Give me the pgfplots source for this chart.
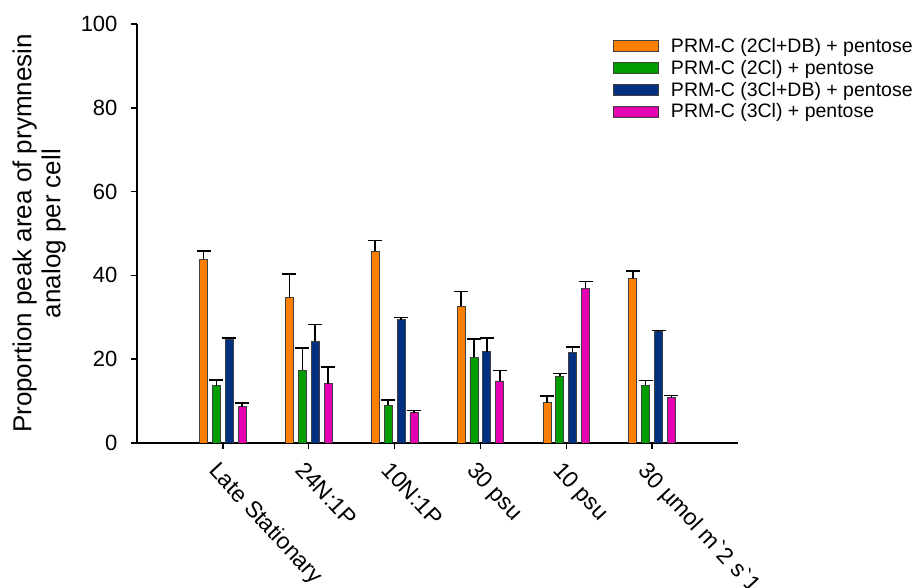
\documentclass[border=0pt]{standalone}
\usepackage{pgfplots}
\pgfplotsset{compat=1.18}
\usepackage{pgfplotstable}
\usepackage{fontspec}
\setmainfont{Liberation Sans}
\definecolor{corange}{RGB}{255,128,0}
\definecolor{cgreen}{RGB}{0,158,0}
\definecolor{cblue}{RGB}{0,48,128}
\definecolor{cmag}{RGB}{228,0,178}
\pgfplotsset{mylegimg/.style={legend image code/.code={\draw[##1,draw=black!75,line width=0.8pt] (0pt,-5.5pt) rectangle (45pt,5.5pt); \path (55pt,0pt);}}}
\pgfplotstableread{
x y e
0 43.8 2.0
1 34.8 5.5
2 45.8 2.5
3 32.6 3.5
4 9.6 1.6
5 39.3 1.7
}\torange
\pgfplotstableread{
x y e
0 13.7 1.3
1 17.4 5.3
2 9.0 1.3
3 20.5 4.3
4 15.9 0.7
5 13.8 1.1
}\tgreen
\pgfplotstableread{
x y e
0 24.8 0.3
1 24.3 4.0
2 29.4 0.5
3 21.8 3.2
4 21.6 1.3
5 26.6 0.2
}\tblue
\pgfplotstableread{
x y e
0 8.7 0.8
1 14.2 3.9
2 7.2 0.6
3 14.8 2.5
4 36.9 1.6
5 10.8 0.5
}\tmag
\begin{document}
\begin{tikzpicture}
\path[use as bounding box] (-137pt,-145pt) rectangle (784pt,443pt);
\begin{axis}[
  at={(0pt,0pt)}, anchor=south west,
  scale only axis, width=601pt, height=419pt,
  xmin=-1, xmax=6, ymin=0, ymax=100,
  axis x line*=bottom, axis y line*=left,
  axis line style={line width=1.5pt},
  tick style={line width=1.5pt, black},
  tick align=outside, major tick length=6pt,
  ytick={0,20,40,60,80,100},
  xtick={0,1,2,3,4,5},
  xticklabels={Late Stationary,24N:1P,10N:1P,30 psu,10 psu,{30 µmol m\textasciigrave 2 s\textasciigrave 1}},
  /pgf/number format/assume math mode=true,
  yticklabel style={font=\fontsize{22}{24}\selectfont, xshift=-10pt},
  xticklabel style={font=\fontsize{23}{26}\selectfont, rotate=-47, anchor=north west, xshift=3pt, yshift=-6pt},
  ylabel={Proportion peak area of prymnesin\\analog per cell},
  ylabel style={align=center, font=\fontsize{26}{29}\selectfont, at={(axis description cs:-0.163,0.5)}, anchor=center},
  ybar=4.9pt, bar width=8pt,
  legend style={at={(0.792,0.971)}, anchor=north west, draw=none, fill=none,
    font=\fontsize{19.5}{22}\selectfont, row sep=2.2pt, inner sep=0pt,
    nodes={inner sep=2pt}},
  legend cell align=left,
  every axis plot/.append style={draw=black!75, line width=0.8pt,
    error bars/y dir=plus, error bars/y explicit,
    error bars/error bar style={line width=1.5pt, black},
    error bars/error mark options={line width=1.5pt, black, mark size=7pt, rotate=90}},
]
\addplot[fill=corange, mylegimg] table[x=x,y=y,y error=e] {\torange};
\addplot[fill=cgreen, mylegimg] table[x=x,y=y,y error=e] {\tgreen};
\addplot[fill=cblue, mylegimg] table[x=x,y=y,y error=e] {\tblue};
\addplot[fill=cmag, mylegimg] table[x=x,y=y,y error=e] {\tmag};
\legend{PRM-C (2Cl+DB) + pentose, PRM-C (2Cl) + pentose, PRM-C (3Cl+DB) + pentose, PRM-C (3Cl) + pentose}
\end{axis}
\end{tikzpicture}
\end{document}
